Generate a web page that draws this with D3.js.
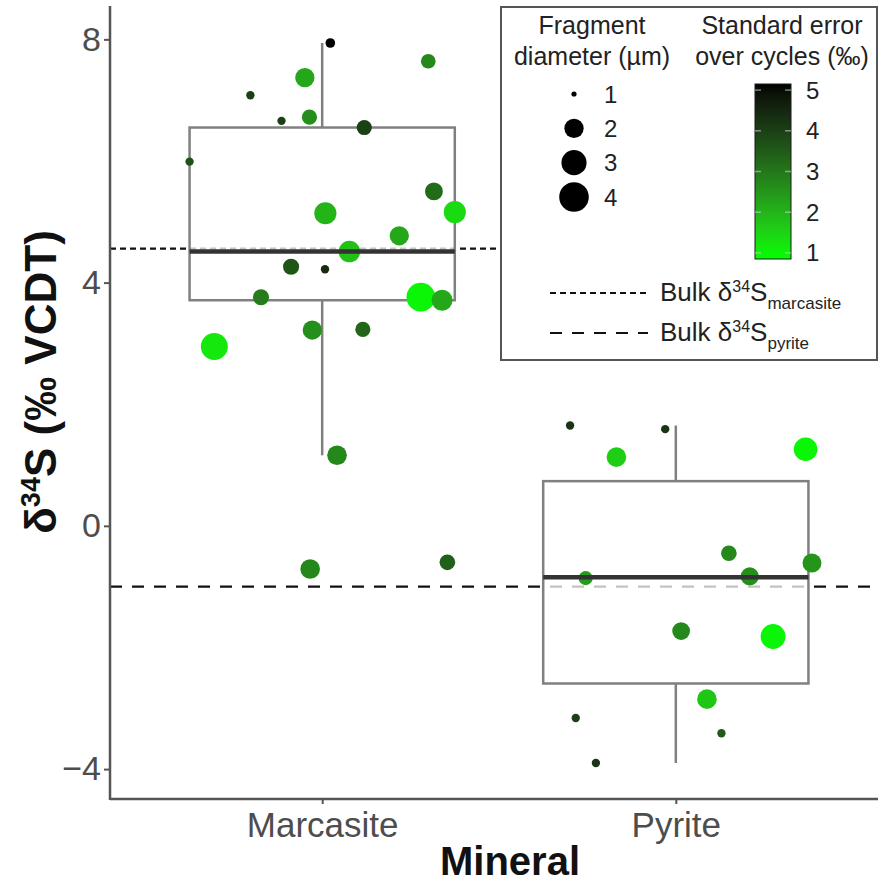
<!DOCTYPE html>
<html>
<head>
<meta charset="utf-8">
<script src="https://cdn.jsdelivr.net/npm/d3@7"></script>
<style>
  html, body { margin: 0; padding: 0; background: #fff; }
  svg { display: block; font-family: "Liberation Sans", Arial, Helvetica, sans-serif; }
</style>
</head>
<body>
<svg id="chart" width="878" height="884"></svg>
<script>
// ---- data ---------------------------------------------------------------
const minerals = ["Marcasite", "Pyrite"];

// Marcasite fragments: δ34S (‰ VCDT), fragment diameter (µm), standard error (‰), jitter (category units)
const marcasiteD34S     = [3.80, 7.94, 7.37, 7.64, 7.08, 6.66, 6.72, 6.55, 5.99, 5.50, 5.14, 5.16, 4.77, 4.51, 4.26, 4.22, 3.76, 3.76, 3.71, 2.95, 3.22, 3.23, 1.16, -0.71, -0.60];
const marcasiteDiameter = [1.0, 1.1, 2.0, 1.45, 1.05, 1.05, 1.5, 1.5, 1.05, 1.8, 2.45, 2.45, 2.0, 2.35, 1.6, 1.05, 1.6, 3.8, 2.25, 3.4, 2.0, 1.5, 2.05, 2.05, 1.55];
const marcasiteSE       = [3.0, 5.15, 2.2, 2.7, 4.0, 4.0, 2.6, 4.0, 3.7, 3.2, 2.0, 1.4, 2.2, 1.8, 3.6, 4.4, 2.9, 1.0, 2.2, 1.2, 2.6, 3.3, 2.7, 2.7, 3.4];
const marcasiteJitter   = [0.29, 0.023, -0.049, 0.300, -0.203, -0.115, -0.036, 0.119, -0.375, 0.316, 0.009, 0.375, 0.218, 0.077, -0.088, 0.008, -0.173, 0.279, 0.339, -0.305, -0.028, 0.115, 0.042, -0.034, 0.354];

// Pyrite fragments
const pyriteD34S     = [1.65, 1.59, 1.13, 1.26, -0.45, -0.61, -0.86, -0.83, -1.73, -1.82, -2.85, -3.16, -3.41, -3.90];
const pyriteDiameter = [1.05, 1.05, 2.05, 2.7, 1.55, 1.95, 1.4, 1.85, 1.8, 2.95, 2.05, 1.05, 1.05, 1.05];
const pyriteSE       = [4.2, 4.2, 1.6, 1.0, 2.7, 2.5, 2.4, 2.6, 2.7, 1.0, 1.7, 4.0, 3.5, 4.2];
const pyriteJitter   = [-0.299, -0.030, -0.168, 0.367, 0.150, 0.385, -0.255, 0.209, 0.015, 0.275, 0.088, -0.283, 0.129, -0.226];

// Bulk δ34S reference values
const bulkLabels = ["marcasite", "pyrite"];
const bulkD34S   = [4.56, -1.00];

// Axis / legend breaks
const yTicks     = [-4, 0, 4, 8];
const sizeBreaks = [1, 2, 3, 4];
const seBreaks   = [1, 2, 3, 4, 5];
const seLimits   = [0.85, 5.15];

// ---- assemble -----------------------------------------------------------
const groups = [
  { mineral: minerals[0], idx: 1, d34s: marcasiteD34S, dia: marcasiteDiameter, se: marcasiteSE, jit: marcasiteJitter },
  { mineral: minerals[1], idx: 2, d34s: pyriteD34S,    dia: pyriteDiameter,    se: pyriteSE,    jit: pyriteJitter }
];
const points = groups.flatMap(g => g.d34s.map((v, i) => ({
  mineral: g.mineral, idx: g.idx, y: v, dia: g.dia[i], se: g.se[i], jit: g.jit[i]
})));

const svg = d3.select("#chart");
const panel = { left: 110, right: 888, top: 7, bottom: 799 };

// y range from the data, expanded by 5% on each side
const ext = d3.extent(points, d => d.y);
const pad = (ext[1] - ext[0]) * 0.05;
const y = d3.scaleLinear().domain([ext[0] - pad, ext[1] + pad]).range([panel.bottom, panel.top]);
const x = d3.scaleLinear().domain([0.4, 2.6]).range([panel.left, panel.right]);

const rScale = d3.scaleSqrt().domain([0, 3]).range([2.6, 14.8]).clamp(true);
const radius = d => rScale(d - 1);
const colour = d3.scaleLinear().domain(seLimits).range(["#00ff00", "#000000"])
  .interpolate(d3.interpolateLab).clamp(true);

// ---- bulk reference lines ----------------------------------------------
const dashes = ["6,4", "12,10"];
svg.append("g").selectAll("line").data(bulkD34S).join("line")
  .attr("x1", panel.left).attr("x2", 878)
  .attr("y1", d => y(d)).attr("y2", d => y(d))
  .attr("stroke", "#111").attr("stroke-width", 2.2)
  .attr("stroke-dasharray", (d, i) => dashes[i]);

// ---- boxplots -----------------------------------------------------------
const stats = groups.map(g => {
  const s = g.d34s.slice().sort(d3.ascending);
  const q1 = d3.quantile(s, 0.25), med = d3.quantile(s, 0.5), q3 = d3.quantile(s, 0.75);
  const iqr = q3 - q1;
  const lo = d3.min(s.filter(v => v >= q1 - 1.5 * iqr));
  const hi = d3.max(s.filter(v => v <= q3 + 1.5 * iqr));
  return { idx: g.idx, q1, med, q3, lo, hi };
});
const halfW = 0.375;
const boxG = svg.append("g");
boxG.selectAll("line.wu").data(stats).join("line")
  .attr("x1", d => x(d.idx)).attr("x2", d => x(d.idx))
  .attr("y1", d => y(d.q3)).attr("y2", d => y(d.hi))
  .attr("stroke", "#808080").attr("stroke-width", 2.5);
boxG.selectAll("line.wl").data(stats).join("line")
  .attr("x1", d => x(d.idx)).attr("x2", d => x(d.idx))
  .attr("y1", d => y(d.q1)).attr("y2", d => y(d.lo))
  .attr("stroke", "#808080").attr("stroke-width", 2.5);
boxG.selectAll("rect").data(stats).join("rect")
  .attr("x", d => x(d.idx - halfW)).attr("width", d => x(d.idx + halfW) - x(d.idx - halfW))
  .attr("y", d => y(d.q3)).attr("height", d => y(d.q1) - y(d.q3))
  .attr("fill", "#fff").attr("fill-opacity", 0.75)
  .attr("stroke", "#808080").attr("stroke-width", 2.5);

// ---- fragments ----------------------------------------------------------
svg.append("g").selectAll("circle").data(points).join("circle")
  .attr("cx", d => x(d.idx + d.jit))
  .attr("cy", d => y(d.y))
  .attr("r", d => radius(d.dia))
  .attr("fill", d => colour(d.se));

// median lines on top
svg.append("g").selectAll("line").data(stats).join("line")
  .attr("x1", d => x(d.idx - halfW)).attr("x2", d => x(d.idx + halfW))
  .attr("y1", d => y(d.med)).attr("y2", d => y(d.med))
  .attr("stroke", "#333").attr("stroke-width", 4.5);

// ---- axes ---------------------------------------------------------------
const yAxis = svg.append("g").attr("transform", `translate(${panel.left},0)`)
  .call(d3.axisLeft(y).tickValues(yTicks).tickSize(6).tickPadding(3)
    .tickFormat(d => d < 0 ? "\u2212" + Math.abs(d) : d));
yAxis.select(".domain").remove();
yAxis.selectAll(".tick line").attr("stroke", "#555").attr("stroke-width", 2);
yAxis.selectAll(".tick text").attr("fill", "#4d4d4d").attr("font-size", 34)
  .attr("font-family", "Liberation Sans, Arial, sans-serif");

const xAxis = svg.append("g").attr("transform", `translate(0,${panel.bottom})`)
  .call(d3.axisBottom(x).tickValues([1, 2]).tickSize(5).tickPadding(8)
    .tickFormat(d => minerals[d - 1]));
xAxis.select(".domain").remove();
xAxis.selectAll(".tick line").attr("stroke", "#555").attr("stroke-width", 2);
xAxis.selectAll(".tick text").attr("fill", "#4d4d4d").attr("font-size", 35)
  .attr("font-family", "Liberation Sans, Arial, sans-serif");

// axis lines
svg.append("line").attr("x1", panel.left).attr("x2", panel.left)
  .attr("y1", panel.top - 1).attr("y2", panel.bottom + 1)
  .attr("stroke", "#555").attr("stroke-width", 2.5);
svg.append("line").attr("x1", panel.left).attr("x2", 878)
  .attr("y1", panel.bottom).attr("y2", panel.bottom)
  .attr("stroke", "#555").attr("stroke-width", 2.5);

// axis titles
svg.append("text").attr("x", 510).attr("y", 875).attr("text-anchor", "middle")
  .attr("font-size", 40).attr("font-weight", "bold").attr("fill", "#111").text("Mineral");

const yt = svg.append("text").attr("transform", "translate(56,382) rotate(-90)")
  .attr("text-anchor", "middle").attr("font-size", 44).attr("font-weight", "bold").attr("fill", "#111");
yt.append("tspan").text("δ");
yt.append("tspan").attr("font-size", 27).attr("dy", -16).text("34");
yt.append("tspan").attr("dy", 16).text("S (‰ VCDT)");

// ---- legend -------------------------------------------------------------
const lg = svg.append("g");
lg.append("rect").attr("x", 501).attr("y", 7).attr("width", 376).attr("height", 353)
  .attr("fill", "#fff").attr("stroke", "#555").attr("stroke-width", 2);

const titleFont = 25;
[["Fragment", "diameter (µm)", 592], ["Standard error", "over cycles (‰)", 782]].forEach(t => {
  lg.append("text").attr("x", t[2]).attr("y", 34).attr("text-anchor", "middle")
    .attr("font-size", titleFont).attr("fill", "#222").text(t[0]);
  lg.append("text").attr("x", t[2]).attr("y", 65).attr("text-anchor", "middle")
    .attr("font-size", titleFont).attr("fill", "#222").text(t[1]);
});

// size keys
const sizeKeyY = d3.scalePoint().domain(sizeBreaks).range([94, 197]);
lg.selectAll("circle.key").data(sizeBreaks).join("circle")
  .attr("cx", 574).attr("cy", d => sizeKeyY(d)).attr("r", d => radius(d)).attr("fill", "#000");
lg.selectAll("text.key").data(sizeBreaks).join("text")
  .attr("x", 604).attr("y", d => sizeKeyY(d) + 8.5)
  .attr("font-size", 24).attr("fill", "#222").text(d => d);

// colour bar
const barX = 755, barW = 36, barTop = 84, barBot = 259;
const barY = d3.scaleLinear().domain(seLimits).range([barBot, barTop]);
const grad = svg.append("defs").append("linearGradient").attr("id", "seGrad")
  .attr("x1", 0).attr("x2", 0).attr("y1", 1).attr("y2", 0);
d3.range(0, 1.0001, 0.05).forEach(t => {
  grad.append("stop").attr("offset", t)
    .attr("stop-color", colour(seLimits[0] + t * (seLimits[1] - seLimits[0])));
});
lg.append("rect").attr("x", barX).attr("y", barTop).attr("width", barW).attr("height", barBot - barTop)
  .attr("fill", "url(#seGrad)").attr("stroke", "#1a1a1a").attr("stroke-width", 1);
seBreaks.forEach(b => {
  [[barX, barX + 6], [barX + barW - 6, barX + barW]].forEach(seg => {
    lg.append("line").attr("x1", seg[0]).attr("x2", seg[1])
      .attr("y1", barY(b)).attr("y2", barY(b))
      .attr("stroke", "#ccc").attr("stroke-opacity", 0.6).attr("stroke-width", 1.5);
  });
});
lg.selectAll("text.se").data(seBreaks).join("text")
  .attr("x", 806).attr("y", d => barY(d) + 8.5)
  .attr("font-size", 24).attr("fill", "#222").text(d => d);

// bulk line keys
const bulkKeyY = [293, 333];
bulkLabels.forEach((lab, i) => {
  lg.append("line").attr("x1", 550).attr("x2", 648)
    .attr("y1", bulkKeyY[i]).attr("y2", bulkKeyY[i])
    .attr("stroke", "#111").attr("stroke-width", 2).attr("stroke-dasharray", dashes[i]);
  const t = lg.append("text").attr("x", 660).attr("y", bulkKeyY[i] + 8)
    .attr("font-size", 26).attr("fill", "#222");
  t.append("tspan").text("Bulk δ");
  t.append("tspan").attr("font-size", 16).attr("dy", -9).text("34");
  t.append("tspan").attr("dy", 9).text("S");
  t.append("tspan").attr("font-size", 17).attr("dy", 8).text(lab);
});
</script>
</body>
</html>
